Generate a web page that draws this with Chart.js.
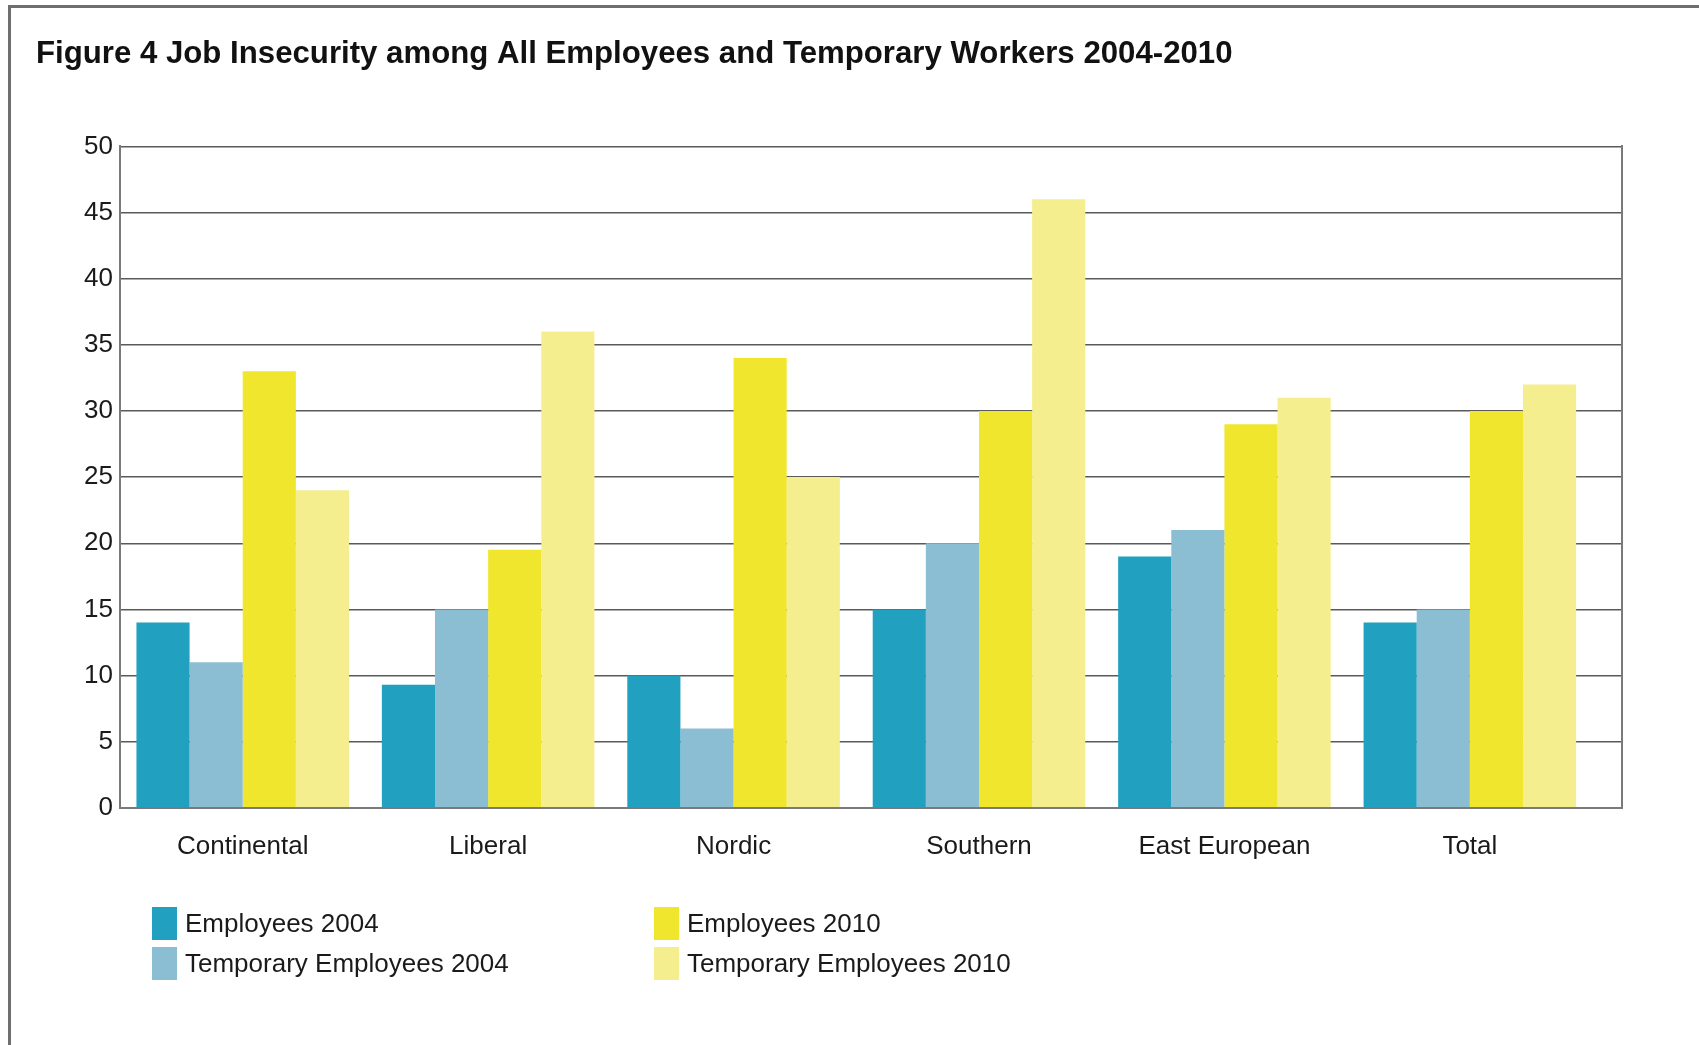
<!DOCTYPE html>
<html>
<head>
<meta charset="utf-8">
<title>Figure 4 Job Insecurity</title>
<script src="https://cdn.jsdelivr.net/npm/chart.js@4/dist/chart.umd.min.js"></script>
<style>
  html, body { margin: 0; padding: 0; background: #fff; }
  body { width: 1699px; height: 1045px; position: relative; overflow: hidden;
         font-family: "Liberation Sans", Arial, Helvetica, sans-serif; }
  #frame { position: absolute; left: 8px; top: 5px; width: 1720px; height: 1100px;
           border-top: 3px solid #6e6e6e; border-left: 3px solid #6e6e6e; }
  #wrap { position: absolute; left: 0; top: 0; width: 1699px; height: 1045px; }
  #legend { position: absolute; left: 152px; top: 907px;
            display: grid; grid-template-columns: 502px 400px; grid-auto-flow: column;
            grid-template-rows: 33px 33px; row-gap: 7px; }
  .item { display: flex; align-items: center; font-size: 26px; color: #1a1a1a; white-space: nowrap; }
  .swatch { width: 25px; height: 33px; margin-right: 8px; flex: none; }
</style>
</head>
<body>
<div id="frame"></div>
<div id="wrap"><canvas id="chart"></canvas></div>
<div id="legend"></div>
<script>
// 地區分類
const regions = ['Continental', 'Liberal', 'Nordic', 'Southern', 'East European', 'Total'];

// 各系列數值（%）
const employees2004 = [14, 9.3, 10, 15, 19, 14];
const tempEmployees2004 = [11, 15, 6, 20, 21, 15];
const employees2010 = [33, 19.5, 34, 30, 29, 30];
const tempEmployees2010 = [24, 36, 25, 46, 31, 32];

const seriesLabels = ['Employees 2004', 'Temporary Employees 2004', 'Employees 2010', 'Temporary Employees 2010'];
const seriesColors = ['#22a0bf', '#8bbed3', '#f0e62d', '#f4ee8f'];

const yTicks = [0, 5, 10, 15, 20, 25, 30, 35, 40, 45, 50];

function renderChart() {
    const series = [employees2004, tempEmployees2004, employees2010, tempEmployees2010];
    const positions = regions.map((_, i) => i); // 類別位置（原圖右側留有空白）
    const ctx = document.getElementById('chart').getContext('2d');
    new Chart(ctx, {
        type: 'bar',
        data: {
            labels: positions,
            datasets: series.map((values, i) => ({
                label: seriesLabels[i],
                data: values,
                backgroundColor: seriesColors[i],
                borderWidth: 0,
                categoryPercentage: 0.866,
                barPercentage: 1.0,
            }))
        },
        options: {
            responsive: true,
            maintainAspectRatio: false,
            animation: false,
            layout: {
                padding: { left: 36, right: 77, top: 36, bottom: 168 }
            },
            plugins: {
                legend: { display: false },
                tooltip: { enabled: false },
                title: {
                    display: true,
                    text: 'Figure 4 Job Insecurity among All Employees and Temporary Workers 2004-2010',
                    align: 'start',
                    color: '#111',
                    font: { family: '"Liberation Sans", Arial, sans-serif', size: 31.2, weight: 'bold' },
                    padding: { top: 0, bottom: 73 }
                }
            },
            scales: {
                x: {
                    type: 'linear',
                    min: -0.5,
                    max: 5.62,
                    offset: false,
                    afterBuildTicks: (scale) => { scale.ticks = positions.map(v => ({ value: v })); },
                    grid: { display: false },
                    border: { display: true, color: '#7a7a7a', width: 2 },
                    ticks: {
                        color: '#1a1a1a',
                        padding: 15,
                        maxRotation: 0,
                        autoSkip: false,
                        callback: (value) => regions[value],
                        font: { family: '"Liberation Sans", Arial, sans-serif', size: 26 }
                    }
                },
                y: {
                    min: 0,
                    max: 50,
                    afterBuildTicks: (scale) => { scale.ticks = yTicks.map(v => ({ value: v })); },
                    afterFit: (scale) => { scale.width = 84; },
                    grid: { color: '#5a5a5a', lineWidth: 1.5, drawTicks: false },
                    border: { display: true, color: '#7a7a7a', width: 2 },
                    ticks: {
                        color: '#1a1a1a',
                        padding: 7,
                        font: { family: '"Liberation Sans", Arial, sans-serif', size: 26 }
                    }
                },
                yRight: {
                    position: 'right',
                    min: 0,
                    max: 50,
                    afterFit: (scale) => { scale.width = 0; },
                    grid: { drawOnChartArea: false, drawTicks: false },
                    border: { display: true, color: '#7a7a7a', width: 2 },
                    ticks: { display: false }
                }
            }
        }
    });

    // 圖例：兩欄排列
    const legend = document.getElementById('legend');
    seriesLabels.forEach((label, i) => {
        const item = document.createElement('div');
        item.className = 'item';
        item.innerHTML = `<span class="swatch" style="background:${seriesColors[i]}"></span><span>${label}</span>`;
        legend.appendChild(item);
    });
}

document.addEventListener('DOMContentLoaded', renderChart);
</script>
</body>
</html>
